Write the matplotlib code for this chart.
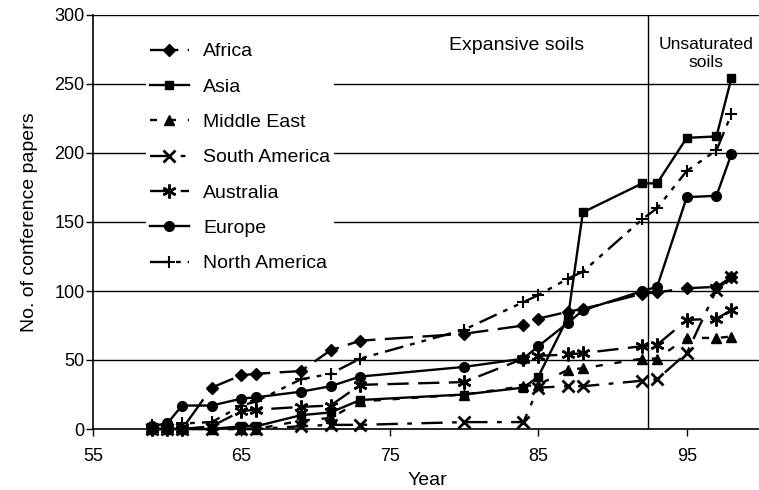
import matplotlib
matplotlib.use("Agg")
import matplotlib.pyplot as plt

plt.rcParams['font.family'] = ['Liberation Sans', 'DejaVu Sans']

years = [59, 60, 61, 63, 65, 66, 69, 71, 73, 80, 84, 85, 87, 88, 92, 93, 95, 97, 98]

africa        = [0, 0, 0, 30, 39, 40, 42, 57, 64, 69, 75, 80, 85, 87, 98, 99, 102, 103, 110]
asia          = [0, 0, 0, 0, 2, 2, 10, 12, 21, 25, 30, 38, 81, 157, 178, 178, 211, 212, 254]
middle_east   = [0, 0, 0, 0, 0, 0, 6, 8, 20, 25, 31, 32, 43, 44, 51, 51, 66, 66, 67]
south_america = [0, 0, 0, 0, 0, 0, 2, 3, 3, 5, 5, 30, 31, 31, 35, 36, 55, 101, 110]
australia     = [0, 0, 0, 2, 13, 14, 16, 17, 32, 34, 51, 53, 54, 55, 60, 61, 79, 80, 86]
europe        = [2, 4, 17, 17, 22, 23, 27, 31, 38, 45, 51, 60, 77, 86, 100, 103, 168, 169, 199]
north_america = [3, 3, 4, 5, 17, 20, 36, 40, 51, 72, 92, 97, 109, 114, 152, 160, 187, 202, 228]

series_names = ["Africa", "Asia", "Middle East", "South America", "Australia", "Europe", "North America"]
x_ticks = [55, 65, 75, 85, 95]
y_ticks = [0, 50, 100, 150, 200, 250, 300]
divider_year = 92.4

fig = plt.figure(figsize=(7.59, 4.90), dpi=100)
ax = fig.add_axes([93 / 759, 1 - 429 / 490, 668 / 759, 414 / 490])

styles = [
    dict(marker='D', ms=6, dashes=(12, 4)),
    dict(marker='s', ms=6, linestyle='-'),
    dict(marker='^', ms=7, dashes=(3, 5)),
    dict(marker='x', ms=8, mew=2.0, dashes=(9, 4, 2, 4)),
    dict(marker=(6, 2, 0), ms=10, mew=1.8, dashes=(9, 4)),
    dict(marker='o', ms=7, linestyle='-'),
    dict(marker='+', ms=9, mew=1.5, dashes=(8, 3, 2, 3, 2, 3)),
]
data = [africa, asia, middle_east, south_america, australia, europe, north_america]

for name, vals, st in zip(series_names, data, styles):
    ax.plot(years, vals, color='black', lw=1.7, mfc='black', mec='black',
            label=name, clip_on=False, zorder=3, **st)

for yv in y_ticks[1:]:
    ax.axhline(yv, color='black', lw=1.0, zorder=1)
ax.axvline(divider_year, color='black', lw=1.0, zorder=1)

ax.set_xlim(55, 100)
ax.set_ylim(0, 300)
ax.set_xticks(x_ticks)
ax.set_yticks(y_ticks)
ax.tick_params(axis='both', direction='out', length=5, width=1, labelsize=13)
ax.tick_params(axis='y', pad=1)
ax.tick_params(axis='x', pad=9)
for s in ['right', 'top']:
    ax.spines[s].set_visible(False)
ax.spines['left'].set_linewidth(1.2)
ax.spines['bottom'].set_linewidth(1.2)

ax.set_xlabel("Year", fontsize=14, labelpad=5)
ax.set_ylabel("No. of conference papers", fontsize=14, labelpad=12)

ax.text(83.55, 278, "Expansive soils", fontsize=14, ha='center', va='center')
ax.text(96.3, 272, "Unsaturated\nsoils", fontsize=12.5, ha='center', va='center',
        linespacing=1.25)

leg = ax.legend(loc='upper left', bbox_to_anchor=((146 - 93) / 668, (429 - 39) / 414),
                frameon=True, fontsize=14, handlelength=2.0, handletextpad=0.75,
                labelspacing=0.91, borderpad=0.2, borderaxespad=0)
leg.get_frame().set_facecolor('white')
leg.get_frame().set_edgecolor('none')
leg.get_frame().set_alpha(1)
leg.set_zorder(2)

fig.savefig("out.png", dpi=100)
